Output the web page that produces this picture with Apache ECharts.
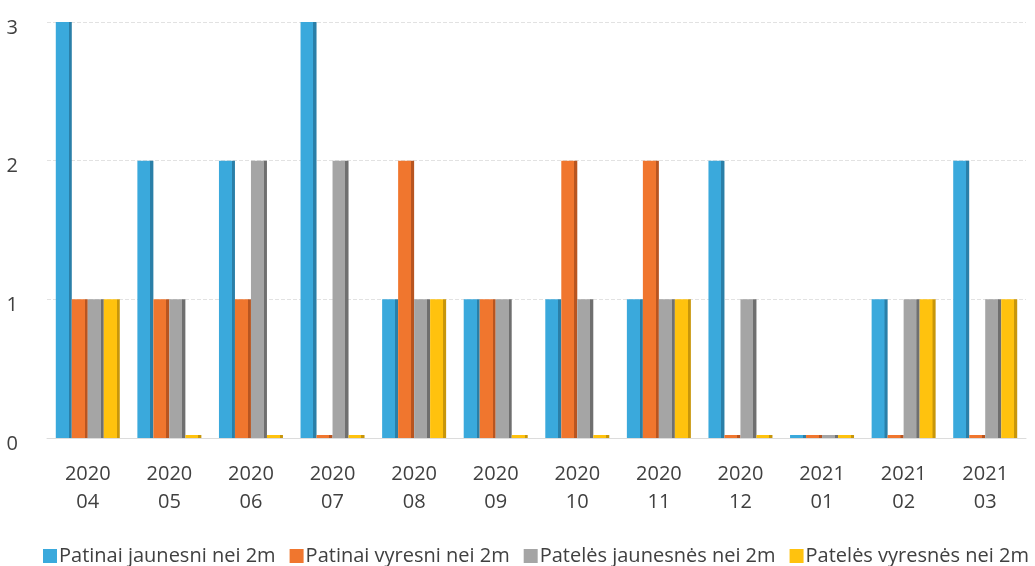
<!DOCTYPE html>
<html>
<head>
<meta charset="utf-8">
<script src="https://cdn.jsdelivr.net/npm/echarts@6/dist/echarts.min.js"></script>
<style>html,body{margin:0;padding:0;background:#fff;}#c{width:1035px;height:566px;}</style>
</head>
<body>
<div id="c"></div>
<script>
const categories = ['2020\n04','2020\n05','2020\n06','2020\n07','2020\n08','2020\n09','2020\n10','2020\n11','2020\n12','2021\n01','2021\n02','2021\n03'];
const patinaiJaunesni = [3,2,2,3,1,1,1,1,2,0,1,2];
const patinaiVyresni = [1,1,1,0,2,1,2,2,0,0,0,0];
const pateliesJaunesnes = [1,1,2,2,1,1,1,1,1,0,1,1];
const pateliesVyresnes = [1,0,0,0,1,0,0,1,0,0,1,1];
const seriesNames = ['Patinai jaunesni nei 2m','Patinai vyresni nei 2m','Patelės jaunesnės nei 2m','Patelės vyresnės nei 2m'];
const yTicks = [0,1,2,3];

const colors = [['#3aa9dc','#2a7fa8'],['#f0762e','#b85520'],['#a5a5a5','#6f6f6f'],['#ffc20e','#c8960a']];
function grad(c){
  return new echarts.graphic.LinearGradient(0,0,1,0,[
    {offset:0,color:c[0]},{offset:0.8,color:c[0]},{offset:0.81,color:c[1]},{offset:1,color:c[1]}
  ]);
}
const chart = echarts.init(document.getElementById('c'));
const dataSets = [patinaiJaunesni, patinaiVyresni, pateliesJaunesnes, pateliesVyresnes];
chart.setOption({
  animation:false,
  textStyle:{fontFamily:'Open Sans, Noto Sans, sans-serif'},
  grid:{left:47,right:9,top:22,bottom:128,containLabel:false},
  legend:{
    bottom:0,left:43,width:1200,padding:0,icon:'rect',itemWidth:14,itemHeight:14,itemGap:14,
    textStyle:{fontSize:20,color:'#404040',padding:[0,0,0,-3]},
    data:seriesNames.map((n,i)=>({name:n,itemStyle:{color:colors[i][0]}}))
  },
  xAxis:{
    type:'category',data:categories,
    axisLine:{show:true,lineStyle:{color:'#dcdcdc'}},axisTick:{show:false},
    axisLabel:{color:'#404040',fontSize:20,lineHeight:28,margin:22}
  },
  yAxis:{
    type:'value',min:0,max:3,interval:1,
    axisLine:{show:false},axisTick:{show:false},
    splitLine:{lineStyle:{color:'#e2e2e2',type:'dashed'}},
    axisLabel:{color:'#404040',fontSize:20,margin:29,verticalAlign:'top',lineHeight:12,formatter:v=>yTicks.includes(v)?String(v):''}
  },
  series:dataSets.map((d,i)=>({
    name:seriesNames[i],type:'bar',data:d,barWidth:16,barGap:'0%',barMinHeight:3,
    itemStyle:{color:grad(colors[i])}
  }))
});
</script>
</body>
</html>
